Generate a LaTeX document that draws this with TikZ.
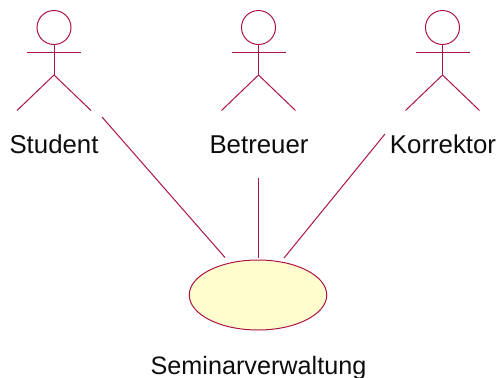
\documentclass[tikz,border=0pt]{standalone}
\usepackage{fontspec}
\setmainfont{Liberation Sans}
\usetikzlibrary{shapes.geometric}
\definecolor{umlline}{RGB}{170,20,70}
\definecolor{umlfill}{RGB}{255,253,205}
\tikzset{
  x=1pt,y=-1pt,
  umlstroke/.style={draw=umlline,line width=1pt},
  head/.style={umlstroke,circle,minimum size=34pt,inner sep=0pt},
  usecase/.style={umlstroke,fill=umlfill,ellipse,minimum width=137.5pt,minimum height=70pt,inner sep=0pt},
  lbl/.style={font=\fontsize{25.8}{28}\selectfont,anchor=base,inner sep=0pt,text=black!95},
  assoc/.style={umlstroke}
}
\newcommand{\stick}[2]{%
  \node[head] (#2h) at (#1,27.5) {};
  \coordinate (#2n) at (#1,75);
  \coordinate (#2al) at ([xshift=-27pt]#1,52);
  \coordinate (#2ar) at ([xshift=27pt]#1,52);
  \coordinate (#2ll) at ([xshift=-37pt]#1,110.5);
  \coordinate (#2lr) at ([xshift=37pt]#1,110.5);
  \draw[umlstroke] (#2h.south) -- (#2n);
  \draw[umlstroke] (#2al) -- (#2ar);
  \draw[umlstroke] (#2ll) -- (#2n) -- (#2lr);
}
\begin{document}
\begin{tikzpicture}
\useasboundingbox (0,0) rectangle (496,378);
\stick{54}{s}
\stick{258.5}{b}
\stick{442.5}{k}
\node[lbl] (student) at (54,153) {Student};
\node[lbl] (betreuer) at (259,153) {Betreuer};
\node[lbl] (korrektor) at (443,153) {Korrektor};
\node[usecase] (uc) at (258,295) {};
\node[lbl,font=\fontsize{25.2}{28}\selectfont] (seminar) at (258.5,374) {Seminarverwaltung};
\coordinate (a1) at (102,117);
\coordinate (a2) at (225,257.5);
\coordinate (b1) at (258,178);
\coordinate (b2) at (258,258);
\coordinate (c1) at (385,134);
\coordinate (c2) at (284,258);
\draw[assoc] (a1) -- (a2);
\draw[assoc] (b1) -- (b2);
\draw[assoc] (c1) -- (c2);
\end{tikzpicture}
\end{document}
